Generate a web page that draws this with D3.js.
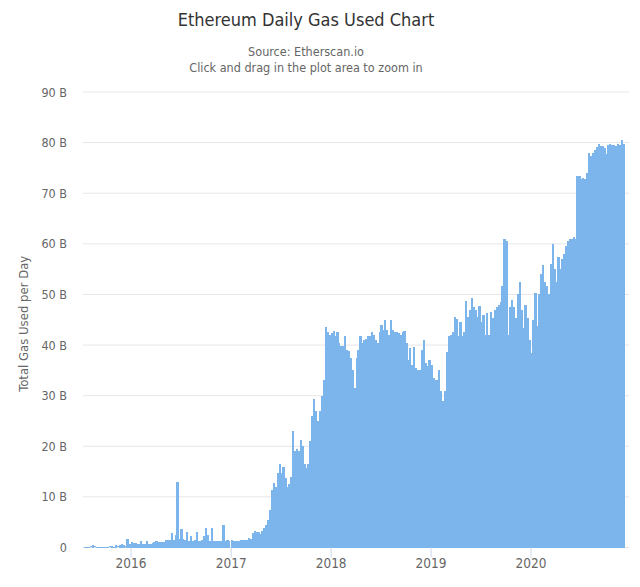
<!DOCTYPE html>
<html>
<head>
<meta charset="utf-8">
<script src="https://cdn.jsdelivr.net/npm/d3@7"></script>
<style>
  body { margin: 0; background: #fff; }
  text { font-family: "DejaVu Sans Condensed", "DejaVu Sans", sans-serif; font-stretch: condensed; }
  .axis--y .domain, .axis--y line { display: none; }
  .axis--x .domain { display: none; }
  .axis--x line { stroke: #ccd6eb; }
  .axis text { fill: #666; }
</style>
</head>
<body>
<div id="chart"></div>
<script>
// weekly readings in billions of gas, one array per year
const gas2015 = [0.1, 0.1, 0.1, 0.2, 0.4, 0.2, 0.1, 0.1, 0.1, 0.1, 0.1, 0.1, 0.1, 0.2, 0.3, 0.1, 0.4, 0.2, 0.5, 0.7, 0.5, 0.2, 1.6, 0.6]
const gas2016 = [1.0, 0.8, 0.9, 0.7, 0.7, 1.3, 0.7, 0.7, 1.2, 0.7, 0.6, 0.9, 1.1, 1.2, 1.0, 1.0, 1.1, 1.0, 1.4, 1.5, 1.5, 2.9, 1.5, 2.4, 13, 1.7, 3.7, 1.6, 1.4, 3.1, 1.3, 2.2, 1.2, 1.4, 3.1, 1.2, 1.2, 1.5, 2.2, 3.8, 2.4, 1.2, 3.8, 1.3, 1.2, 1.2, 1.2, 1.3, 4.4, 1.3, 1.4, 1.3]
const gas2017 = [1.4, 1.3, 1.3, 1.2, 1.3, 1.4, 1.4, 1.4, 1.4, 1.8, 1.6, 2.9, 3.3, 3.0, 3.0, 2.6, 3.2, 3.8, 4.5, 5.5, 7.5, 11.4, 12.8, 12, 14.7, 16.5, 14.7, 16, 13.7, 12, 12.6, 14, 23, 19, 19.5, 19, 21.3, 20, 16.5, 15.7, 16.5, 21, 26, 29.4, 27, 25, 27, 30, 33, 43.5, 42.5, 42]
const gas2018 = [42.4, 42.7, 41.8, 42.5, 40.5, 39.8, 39.8, 41.7, 39, 38.8, 37.5, 35, 31.6, 37.5, 39, 41.7, 40.5, 41, 41.2, 41.7, 41.8, 42.5, 42, 41, 40.5, 42.5, 44, 43, 45, 43, 42, 45, 43, 42.5, 42.5, 42.3, 42, 42.5, 42.7, 40.5, 37, 39.5, 36, 39.7, 35.5, 35, 35, 39, 41, 36.5, 35.8, 37]
const gas2019 = [36, 33.5, 33, 33, 35, 31, 29, 31, 38.6, 41.7, 42, 42.5, 45.6, 45.2, 41.7, 44.6, 41.7, 42.5, 48.7, 45.6, 47, 49.2, 47.5, 47, 45.6, 47.8, 44.5, 46, 42, 46.4, 42, 46.6, 45.4, 47, 47.5, 48, 48.6, 51.6, 61, 60.5, 42, 47.5, 49, 47.6, 45.4, 50, 52.5, 47, 43.4, 48, 45.4, 41]
const gas2020 = [38.5, 45, 50.3, 43.7, 50, 54, 55.9, 52.5, 51.6, 50, 56, 60, 55, 52.5, 57.3, 55, 57, 58, 59.5, 60.5, 61, 61, 61.3, 61, 73.4, 73.4, 72.8, 73, 72.8, 74, 78, 77.4, 78, 78.6, 79.2, 79.7, 79.3, 79.4, 79, 77.8, 79.5, 79.7, 79.5, 79.6, 79.4, 79.8, 79.5, 80.5, 79.7]
const yTicks = [0, 10, 20, 30, 40, 50, 60, 70, 80, 90]
const xTickYears = [2016, 2017, 2018, 2019, 2020]

const w = 640
const h = 587
const margin = {top: 92, right: 11, bottom: 39.5, left: 83}
const width = w - margin.left - margin.right
const height = h - margin.top - margin.bottom

const gasData = []
const addYear = (start, values) => {
  values.forEach((v, i) => gasData.push({date: d3.timeDay.offset(start, i * 7), gas: v}))
}
addYear(new Date(2015, 6, 16), gas2015)
xTickYears.forEach((yr, i) => {
  addYear(new Date(yr, 0, 1), [gas2016, gas2017, gas2018, gas2019, gas2020][i])
})

const svg = d3.select('#chart').append('svg')
  .attr('width', w)
  .attr('height', h)

svg.append('text')
  .attr('x', 306)
  .attr('y', 26)
  .attr('text-anchor', 'middle')
  .attr('fill', '#333')
  .style('font-size', '18px')
  .text('Ethereum Daily Gas Used Chart')

svg.append('text')
  .attr('x', 306)
  .attr('y', 56)
  .attr('text-anchor', 'middle')
  .attr('fill', '#666')
  .style('font-size', '12.5px')
  .text('Source: Etherscan.io')

svg.append('text')
  .attr('x', 306)
  .attr('y', 72)
  .attr('text-anchor', 'middle')
  .attr('fill', '#666')
  .style('font-size', '12.5px')
  .text('Click and drag in the plot area to zoom in')

const g = svg.append('g').attr('transform', 'translate(' + margin.left + ',' + margin.top + ')')

// pinned on the year ticks, 2016 at 130.5 and 2020 at 530.5, extrapolates past them
const x = d3.scaleTime()
  .domain([new Date(2016, 0, 1), new Date(2020, 0, 1)])
  .range([47.5, 447.5])
const y = d3.scaleLinear().domain([0, 90]).range([height, 0])

g.append('g')
  .attr('class', 'grid')
  .selectAll('line')
  .data(yTicks)
  .enter().append('line')
  .attr('x1', 0)
  .attr('x2', width)
  .attr('y1', d => y(d))
  .attr('y2', d => y(d))
  .attr('stroke', '#e6e6e6')

g.selectAll('.bar')
  .data(gasData)
  .enter().append('rect')
  .attr('class', 'bar')
  .attr('x', d => x(d.date))
  .attr('y', d => y(d.gas))
  .attr('width', d => x(d3.timeDay.offset(d.date, 8)) - x(d.date))
  .attr('height', d => height - y(d.gas))
  .attr('fill', '#7cb5ec')
  .attr('shape-rendering', 'crispEdges')

g.append('g')
  .attr('class', 'axis axis--y')
  .call(d3.axisLeft(y).tickValues(yTicks).tickSize(0).tickPadding(16)
    .tickFormat(d => d === 0 ? '0' : d + ' B'))
  .selectAll('text')
  .style('font-size', '12.5px')

g.append('g')
  .attr('class', 'axis axis--x')
  .attr('transform', 'translate(0,' + height + ')')
  .call(d3.axisBottom(x)
    .tickValues(xTickYears.map(yr => new Date(yr, 0, 1)))
    .tickFormat(d3.timeFormat('%Y'))
    .tickSize(10)
    .tickPadding(1))
  .selectAll('text')
  .style('font-size', '13.5px')

svg.append('text')
  .attr('transform', 'translate(28,' + (margin.top + height / 2 + 4) + ') rotate(-90)')
  .attr('text-anchor', 'middle')
  .attr('fill', '#666')
  .style('font-size', '13px')
  .text('Total Gas Used per Day')
</script>
</body>
</html>
